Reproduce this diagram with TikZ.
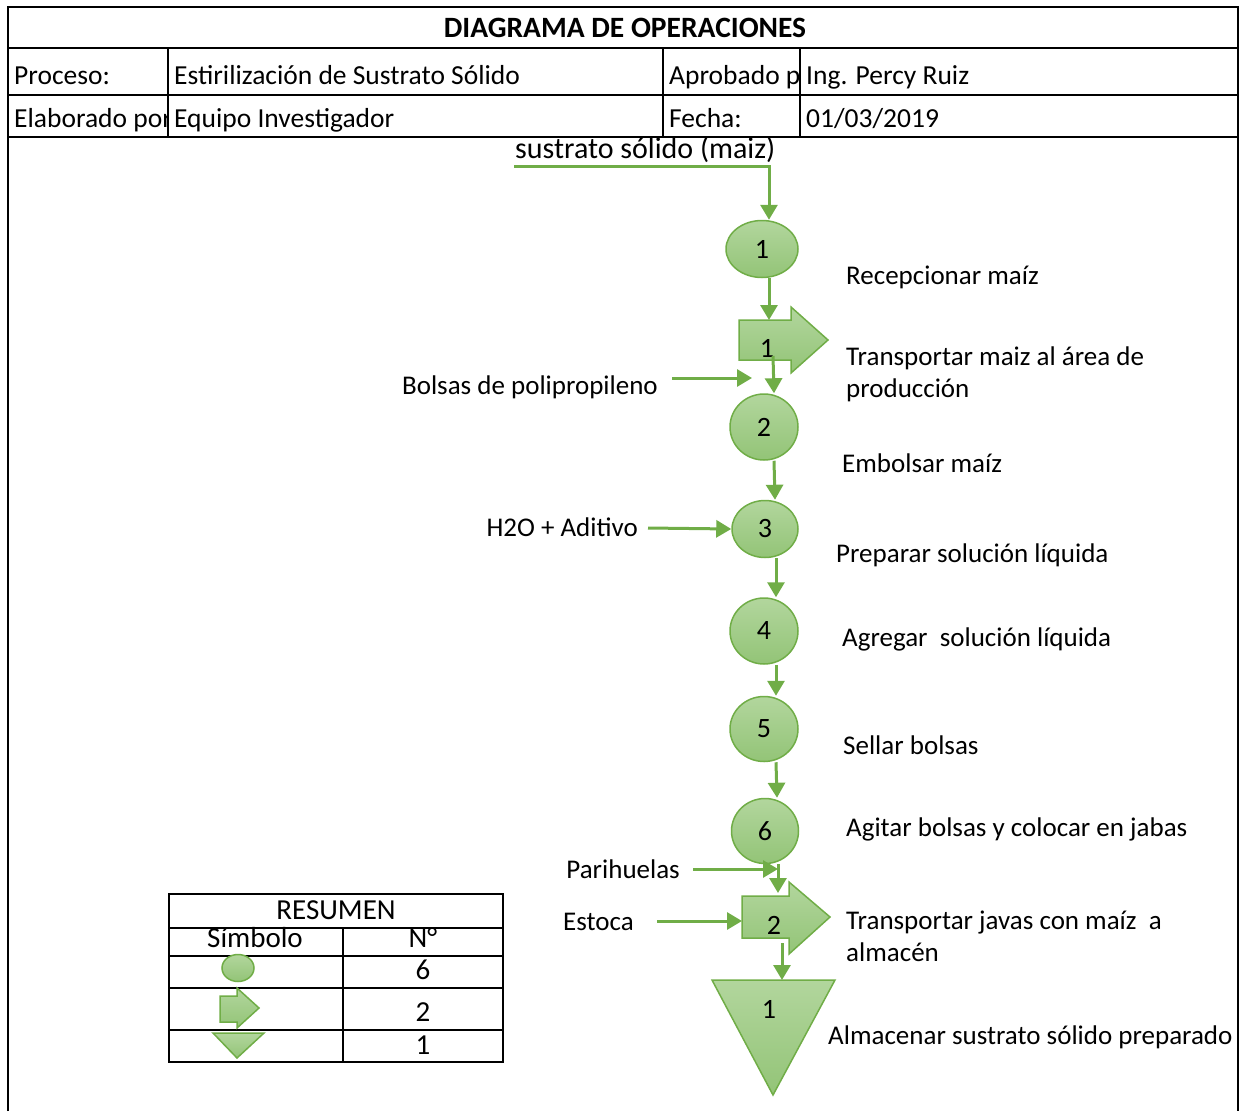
\documentclass[tikz,border=0pt]{standalone}
\usepackage{fontspec}
\setmainfont{Carlito}
\usetikzlibrary{arrows.meta,shapes.geometric}
\definecolor{verde}{HTML}{70AD47}
\definecolor{verdeA}{HTML}{B2D69D}
\definecolor{verdeB}{HTML}{93C477}
\tikzset{
  celda/.style={anchor=base west, inner sep=0pt, font=\fontsize{27.5}{32}\selectfont},
  rotulo/.style={anchor=base west, inner sep=0pt, font=\fontsize{27}{32}\selectfont},
  entrada/.style={anchor=base east, inner sep=0pt, font=\fontsize{27}{32}\selectfont},
  resum/.style={inner sep=0pt, font=\fontsize{29}{32}\selectfont},
  paso/.style={ellipse, draw=verde, line width=1.5pt, top color=verdeA, bottom color=verdeB, inner sep=0pt, font=\fontsize{28}{30}\selectfont},
  bloque/.style={draw=verde, line width=1.5pt, top color=verdeA, bottom color=verdeB, line join=miter},
  flecha/.style={draw=verde, line width=3pt, -{Triangle[length=15pt,width=17pt]}},
  linea/.style={line width=2.5pt},
}
\begin{document}
\begin{tikzpicture}[x=1pt, y=-1pt]
\useasboundingbox (0,0) rectangle (1242,1111);
% cabecera
\draw[line width=1.5pt] (8,1111) -- (8,7) -- (1238,7) -- (1238,1111);
\draw[linea] (8,48) -- (1238,48);
\draw[linea] (8,95) -- (1238,95);
\draw[linea] (8,137) -- (1238,137);
\draw[linea] (168,48) -- (168,137);
\draw[linea] (663,48) -- (663,137);
\draw[linea] (800,48) -- (800,137);

\node (tit) at (625,28) {\fontsize{29.5}{32}\selectfont\bfseries DIAGRAMA DE OPERACIONES};
\node[celda] (h1) at (14,84) {Proceso:};
\node[celda] (h2) at (174,84) {Estirilización de Sustrato Sólido};
\node[celda] (h3) at (669,84) {Aprobado p};
\node[celda] (h4) at (806,84) {Ing. Percy Ruiz};
\node[celda] (h6) at (174,127) {Equipo Investigador};
\node[celda] (h7) at (669,127) {Fecha:};
\node[celda] (h8) at (806,127) {01/03/2019};
\begin{scope}
\clip (10,97) rectangle (166,135);
\node[celda] (h5) at (14,127) {Elaborado por};
\end{scope}

% operaciones
\node[anchor=base west, inner sep=0pt, font=\fontsize{30}{32}\selectfont] (sus) at (515,158) {sustrato sólido (maiz)};
\coordinate (ent) at (514,166);

\node[paso, minimum width=72pt, minimum height=57pt] (c1) at (762,249) {1};
\path[bloque] (739,320) -- (791,320) -- (791,307) -- (828,340) -- (791,373) -- (791,360) -- (739,360) -- cycle;
\node[font=\fontsize{28}{30}\selectfont, inner sep=0pt] (t1) at (767,348) {1};
\node[paso, minimum width=68pt, minimum height=66pt] (c2) at (764,427) {2};
\node[paso, minimum width=66pt, minimum height=57pt] (c3) at (765,529) {3};
\node[paso, minimum width=68pt, minimum height=66pt] (c4) at (764,631) {4};
\node[paso, minimum width=68pt, minimum height=65pt] (c5) at (764,729) {5};
\node[paso, minimum width=67pt, minimum height=65pt] (c6) at (765,831) {6};
\path[bloque] (742,896) -- (789,896) -- (789,882) -- (830,917) -- (789,954) -- (789,938) -- (742,938) -- cycle;
\node[font=\fontsize{28}{30}\selectfont, inner sep=0pt] (t2) at (774,925) {2};
\path[bloque] (712,980) -- (835,980) -- (773,1095) -- cycle;
\node[font=\fontsize{28}{30}\selectfont, inner sep=0pt] (al) at (769,1009) {1};

\coordinate (t1n) at (769,320);
\coordinate (t1s) at (773,356);
\coordinate (t2n) at (778,893);
\coordinate (t2w) at (742,921);
\coordinate (t2s) at (782,943);
\coordinate (aln) at (782,980);

% entradas
\node[entrada] (bol) at (658,394) {Bolsas de polipropileno};
\node[entrada] (h2o) at (638,536) {H2O + Aditivo};
\node[entrada] (par) at (680,878) {Parihuelas};
\node[entrada] (est) at (634,930) {Estoca};
\coordinate (bol0) at (672,378);
\coordinate (bolf) at (752,378);
\coordinate (h2o0) at (648,528);
\coordinate (par0) at (693,869);
\coordinate (parf) at (778,869);
\coordinate (est0) at (657,921);

\draw[flecha] (ent) -| ([xshift=7pt]c1.north);
\draw[flecha] ([xshift=7pt]c1.south) -- (t1n);
\draw[flecha] (t1s) -- ([xshift=10pt]c2.north);
\draw[flecha] (bol0) -- (bolf);
\draw[flecha] ([xshift=10pt]c2.south) -- ([xshift=10pt]c3.north);
\draw[flecha] (h2o0) -- (c3.west);
\draw[flecha] ([xshift=11pt]c3.south) -- ([xshift=12pt]c4.north);
\draw[flecha] ([xshift=12pt]c4.south) -- ([xshift=12pt]c5.north);
\draw[flecha] ([xshift=12pt]c5.south) -- ([xshift=12pt]c6.north);
\draw[flecha] (par0) -- (parf);
\draw[flecha] ([xshift=13pt]c6.south) -- (t2n);
\draw[flecha] (est0) -- (t2w);
\draw[flecha] (t2s) -- (aln);

% descripciones
\node[rotulo] (r1) at (846,284) {Recepcionar maíz};
\node[rotulo, anchor=west, align=left] (r2) at (846,374) {Transportar maiz al área de\\producción};
\node[rotulo] (r3) at (842,472) {Embolsar maíz};
\node[rotulo] (r4) at (836,562) {Preparar solución líquida};
\node[rotulo] (r5) at (842,646) {Agregar\ \ solución líquida};
\node[rotulo] (r6) at (843,754) {Sellar bolsas};
\node[rotulo] (r7) at (846,836) {Agitar bolsas y colocar en jabas};
\node[rotulo, anchor=west, align=left] (r8) at (846,936) {Transportar javas con maíz\ \ a\\almacén};
\node[rotulo] (r9) at (828,1044) {Almacenar sustrato sólido preparado};

% resumen
\draw[line width=2pt] (169,894) rectangle (503,1062);
\draw[line width=2pt] (169,928) -- (503,928);
\draw[line width=2pt] (169,956) -- (503,956);
\draw[line width=2pt] (169,988) -- (503,988);
\draw[line width=2pt] (169,1030) -- (503,1030);
\draw[line width=2pt] (343,928) -- (343,1062);
\node[resum] (res) at (336,910) {RESUMEN};
\node[resum] (sim) at (255,938) {Símbolo};
\node[resum] (num) at (423,938) {N°};
\node[paso, minimum width=32pt, minimum height=27pt] (s1) at (238,968) {};
\path[bloque] (220,996) -- (237,996) -- (237,988) -- (259,1008) -- (237,1028) -- (237,1022) -- (220,1022) -- cycle;
\path[bloque] (213,1033) -- (264,1033) -- (237,1058) -- cycle;
\node[resum] (n1) at (423,970) {6};
\node[resum] (n2) at (423,1012) {2};
\node[resum] (n3) at (423,1045) {1};
\end{tikzpicture}
\end{document}
